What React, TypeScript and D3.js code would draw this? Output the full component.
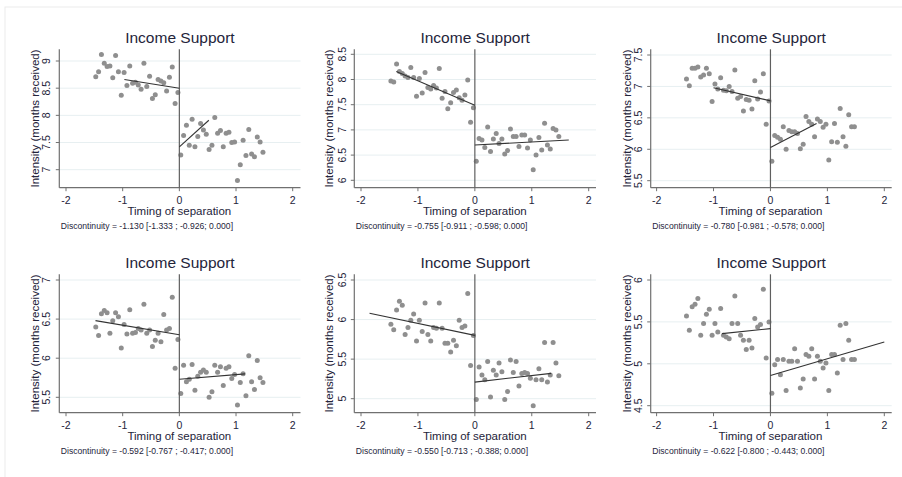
import React from "react";
import * as d3 from "d3";

// ---------- data ----------
const leftBins = [-1.475, -1.425, -1.375, -1.325, -1.275, -1.225, -1.175, -1.125, -1.075, -1.025,
  -0.975, -0.925, -0.875, -0.825, -0.775, -0.725, -0.675, -0.625, -0.575, -0.525,
  -0.475, -0.425, -0.375, -0.325, -0.275, -0.225, -0.175, -0.125, -0.075, -0.025];
const rightBins = [0.025, 0.075, 0.125, 0.175, 0.225, 0.275, 0.325, 0.375, 0.425, 0.475,
  0.525, 0.575, 0.625, 0.675, 0.725, 0.775, 0.825, 0.875, 0.925, 0.975,
  1.025, 1.075, 1.125, 1.175, 1.225, 1.275, 1.325, 1.375, 1.425, 1.475];
const xTicks = [-2, -1, 0, 1, 2];

const p1Left = [8.71, 8.80, 9.12, 8.96, 8.90, 8.91, 8.69, 9.10, 8.80, 8.37, 8.79, 8.55, 8.91, 8.59, 8.61, 8.56, 8.48, 8.96, 8.53, 8.72, 8.31, 8.38, 8.66, 8.63, 8.60, 8.45, 8.70, 8.89, 8.22, 8.42];
const p1Right = [7.27, 7.63, 7.82, 7.45, 7.93, 7.42, 7.61, 7.85, 7.73, 7.65, 7.37, 7.45, 7.96, 7.67, 7.72, 7.42, 7.67, 7.69, 7.50, 7.51, 6.80, 7.09, 7.54, 7.26, 7.74, 7.29, 7.24, 7.60, 7.51, 7.32];
const p1FitLeft = [[-0.97, 8.66], [0, 8.50]];
const p1FitRight = [[0, 7.42], [0.52, 7.91]];

const p2Left = [7.97, 7.95, 8.31, 8.16, 8.12, 8.07, 8.04, 8.24, 8.04, 7.67, 8.02, 7.73, 8.14, 7.84, 7.81, 7.88, 7.83, 8.22, 7.63, 7.76, 7.42, 7.54, 7.74, 7.79, 7.64, 7.59, 7.69, 7.99, 7.15, 7.44];
const p2Right = [6.38, 6.83, 6.80, 6.65, 7.06, 6.57, 6.82, 6.93, 6.73, 6.82, 6.52, 6.59, 7.02, 6.87, 6.87, 6.67, 6.90, 6.90, 6.64, 6.80, 6.21, 6.50, 6.85, 6.60, 7.13, 6.70, 6.62, 7.03, 7.00, 6.87];
const p2FitLeft = [[-1.38, 8.16], [0, 7.49]];
const p2FitRight = [[0, 6.70], [1.65, 6.80]];

const p3Left = [7.12, 7.01, 7.29, 7.29, 7.31, 7.15, 7.18, 7.29, 7.20, 6.76, 7.04, 6.96, 7.14, 6.94, 6.93, 7.00, 6.92, 7.26, 6.81, 6.84, 6.61, 6.79, 6.78, 6.64, 7.09, 6.80, 6.91, 7.20, 6.40, 6.77];
const p3Right = [5.81, 6.22, 6.19, 6.16, 6.36, 6.00, 6.30, 6.28, 6.28, 6.25, 6.01, 6.08, 6.52, 6.44, 6.40, 6.20, 6.48, 6.44, 6.35, 6.40, 5.83, 6.12, 6.41, 6.11, 6.65, 6.20, 6.05, 6.55, 6.36, 6.36];
const p3FitLeft = [[-1.0, 6.98], [0, 6.77]];
const p3FitRight = [[0, 6.03], [0.81, 6.41]];

const p4Left = [6.40, 6.29, 6.57, 6.61, 6.58, 6.32, 6.48, 6.58, 6.53, 6.13, 6.43, 6.31, 6.62, 6.32, 6.33, 6.38, 6.36, 6.69, 6.32, 6.36, 6.15, 6.23, 6.32, 6.21, 6.56, 6.36, 6.38, 6.78, 5.87, 6.24];
const p4Right = [5.55, 5.91, 5.70, 5.73, 5.92, 5.59, 5.77, 5.82, 5.85, 5.82, 5.50, 5.57, 5.91, 5.82, 5.89, 5.65, 5.87, 5.89, 5.74, 5.79, 5.40, 5.69, 5.80, 5.52, 6.03, 5.70, 5.60, 5.97, 5.75, 5.69];
const p4FitLeft = [[-1.48, 6.48], [0, 6.30]];
const p4FitRight = [[0, 5.73], [1.16, 5.80]];

const p5Left = [5.94, 5.87, 6.12, 6.23, 6.18, 5.81, 5.90, 5.99, 6.07, 5.73, 5.99, 5.85, 6.21, 5.81, 5.73, 5.90, 5.89, 6.21, 5.89, 5.70, 5.70, 5.59, 5.74, 5.67, 5.99, 5.90, 5.92, 6.33, 5.42, 5.80];
const p5Right = [4.99, 5.40, 5.30, 5.24, 5.47, 5.02, 5.36, 5.30, 5.45, 5.34, 4.99, 5.09, 5.49, 5.33, 5.47, 5.16, 5.32, 5.33, 5.32, 5.26, 4.91, 5.24, 5.38, 5.24, 5.71, 5.21, 5.30, 5.71, 5.45, 5.29];
const p5FitLeft = [[-1.85, 6.08], [0, 5.80]];
const p5FitRight = [[0, 5.21], [1.34, 5.32]];

const p6Left = [5.57, 5.40, 5.68, 5.71, 5.78, 5.34, 5.48, 5.59, 5.65, 5.34, 5.48, 5.38, 5.66, 5.34, 5.32, 5.30, 5.48, 5.81, 5.48, 5.34, 5.28, 5.17, 5.28, 5.19, 5.54, 5.44, 5.47, 5.89, 5.07, 5.50];
const p6Right = [4.65, 4.99, 5.05, 4.87, 5.05, 4.68, 5.03, 5.03, 5.18, 5.03, 4.71, 4.82, 5.11, 5.09, 5.18, 4.82, 5.09, 5.03, 4.95, 5.01, 4.68, 5.11, 5.11, 4.89, 5.46, 5.05, 5.48, 5.28, 5.05, 5.05];
const p6FitLeft = [[-0.85, 5.36], [0, 5.42]];
const p6FitRight = [[0, 4.86], [2.0, 5.26]];

const p1Ticks = [7, 7.5, 8, 8.5, 9];
const p2Ticks = [6, 6.5, 7, 7.5, 8, 8.5];
const p3Ticks = [5.5, 6, 6.5, 7, 7.5];
const p4Ticks = [5.5, 6, 6.5, 7];
const p5Ticks = [5, 5.5, 6, 6.5];
const p6Ticks = [4.5, 5, 5.5, 6];

const p1Note = "Discontinuity = -1.130 [-1.333 ; -0.926; 0.000]";
const p2Note = "Discontinuity = -0.755 [-0.911 ; -0.598; 0.000]";
const p3Note = "Discontinuity = -0.780 [-0.981 ; -0.578; 0.000]";
const p4Note = "Discontinuity = -0.592 [-0.767 ; -0.417; 0.000]";
const p5Note = "Discontinuity = -0.550 [-0.713 ; -0.388; 0.000]";
const p6Note = "Discontinuity = -0.622 [-0.800 ; -0.443; 0.000]";

const titleText = "Income Support";
const xTitle = "Timing of separation";
const yTitle = "Intensity (months received)";

// ---------- layout ----------
const W = 902, H = 477;
const colAxisX = [59.3, 354.3, 650.7];
const colRightX = [300.5, 596, 891.7];
const colXRange = [[66, 292.7], [361, 588.7], [656.6, 884.3]];
const colTickOff = [9, 8.5, 8.5];
const colTitleOff = [20, 21, 20];
const rowTop = [49.3, 274.3];
const rowBottom = [187.7, 412.7];

const panels = [
  { col: 0, row: 0, left: p1Left, right: p1Right, fitL: p1FitLeft, fitR: p1FitRight, ticks: p1Ticks, note: p1Note, yDom: [7, 9], yRng: [169.7, 61] },
  { col: 1, row: 0, left: p2Left, right: p2Right, fitL: p2FitLeft, fitR: p2FitRight, ticks: p2Ticks, note: p2Note, yDom: [6, 8.5], yRng: [180.3, 54.3] },
  { col: 2, row: 0, left: p3Left, right: p3Right, fitL: p3FitLeft, fitR: p3FitRight, ticks: p3Ticks, note: p3Note, yDom: [5.5, 7.5], yRng: [180.7, 55] },
  { col: 0, row: 1, left: p4Left, right: p4Right, fitL: p4FitLeft, fitR: p4FitRight, ticks: p4Ticks, note: p4Note, yDom: [5.5, 7], yRng: [397.3, 280] },
  { col: 1, row: 1, left: p5Left, right: p5Right, fitL: p5FitLeft, fitR: p5FitRight, ticks: p5Ticks, note: p5Note, yDom: [5, 6.5], yRng: [398.7, 280] },
  { col: 2, row: 1, left: p6Left, right: p6Right, fitL: p6FitLeft, fitR: p6FitRight, ticks: p6Ticks, note: p6Note, yDom: [4.5, 6], yRng: [405.7, 280] },
];

const FONT = "'Liberation Sans', Arial, Helvetica, sans-serif";
const TEXT = "#24243a";
const AXIS = "#707070";
const GRID = "#e7eff1";
const DOT = "#8f8f8f";

function Panel({ p }: { p: any }) {
  const x = d3.scaleLinear().domain([-2, 2]).range(colXRange[p.col]);
  const y = d3.scaleLinear().domain(p.yDom).range(p.yRng);
  const L = colAxisX[p.col];
  const R = colRightX[p.col];
  const top = rowTop[p.row];
  const bot = rowBottom[p.row];
  const line = d3.line<number[]>().x((d) => x(d[0])).y((d) => y(d[1]));
  const cx = x(0);
  const midY = (top + bot) / 2;
  return (
    <g>
      {p.ticks.map((t: number) => (
        <line key={"g" + t} x1={L} x2={R} y1={y(t)} y2={y(t)} stroke={GRID} strokeWidth={1} />
      ))}
      <line x1={L} x2={L} y1={top} y2={bot} stroke={AXIS} strokeWidth={1.2} />
      <line x1={L} x2={R} y1={bot} y2={bot} stroke={AXIS} strokeWidth={1.2} />
      {p.ticks.map((t: number) => (
        <g key={"t" + t}>
          <line x1={L - 3.5} x2={L} y1={y(t)} y2={y(t)} stroke={AXIS} strokeWidth={1} />
          <text
            transform={`translate(${L - colTickOff[p.col]},${y(t)}) rotate(-90)`}
            textAnchor="middle"
            fontFamily={FONT}
            fontSize={10.5}
            fill={TEXT}
          >
            {String(t)}
          </text>
        </g>
      ))}
      {xTicks.map((t) => (
        <g key={"x" + t}>
          <line x1={x(t)} x2={x(t)} y1={bot} y2={bot + 3.5} stroke={AXIS} strokeWidth={1} />
          <text x={x(t)} y={bot + 16.6} textAnchor="middle" fontFamily={FONT} fontSize={10.5} fill={TEXT}>
            {String(t)}
          </text>
        </g>
      ))}
      {p.left.map((v: number, i: number) => (
        <circle key={"l" + i} cx={x(leftBins[i])} cy={y(v)} r={2.5} fill={DOT} />
      ))}
      {p.right.map((v: number, i: number) => (
        <circle key={"r" + i} cx={x(rightBins[i])} cy={y(v)} r={2.5} fill={DOT} />
      ))}
      <line x1={cx} x2={cx} y1={top} y2={bot} stroke="#5f5f5f" strokeWidth={1.2} />
      <path d={line(p.fitL) || ""} fill="none" stroke="#333" strokeWidth={1.1} />
      <path d={line(p.fitR) || ""} fill="none" stroke="#333" strokeWidth={1.1} />
      <text x={(L + R) / 2} y={top - 6.6} textAnchor="middle" fontFamily={FONT} fontSize={15.5} fill={TEXT}>
        {titleText}
      </text>
      <text x={cx} y={bot + 26.8} textAnchor="middle" fontFamily={FONT} fontSize={11.5} fill={TEXT}>
        {xTitle}
      </text>
      <text
        transform={`translate(${L - colTitleOff[p.col]},${midY}) rotate(-90)`}
        textAnchor="middle"
        fontFamily={FONT}
        fontSize={11.5}
        fill={TEXT}
      >
        {yTitle}
      </text>
      <text x={L + 1.5} y={bot + 41.6} fontFamily={FONT} fontSize={8.6} fill={TEXT}>
        {p.note}
      </text>
    </g>
  );
}

export default function App() {
  return (
    <svg
      width={W}
      height={H}
      style={{ position: "absolute", left: 0, top: 0, background: "#fff" }}
    >
      <rect x={0} y={0} width={W} height={H} fill="#fff" />
      <rect x={5} y={7} width={W + 20} height={H + 20} fill="none" stroke="#ececec" strokeWidth={1} />
      {panels.map((p, i) => (
        <Panel key={i} p={p} />
      ))}
    </svg>
  );
}
